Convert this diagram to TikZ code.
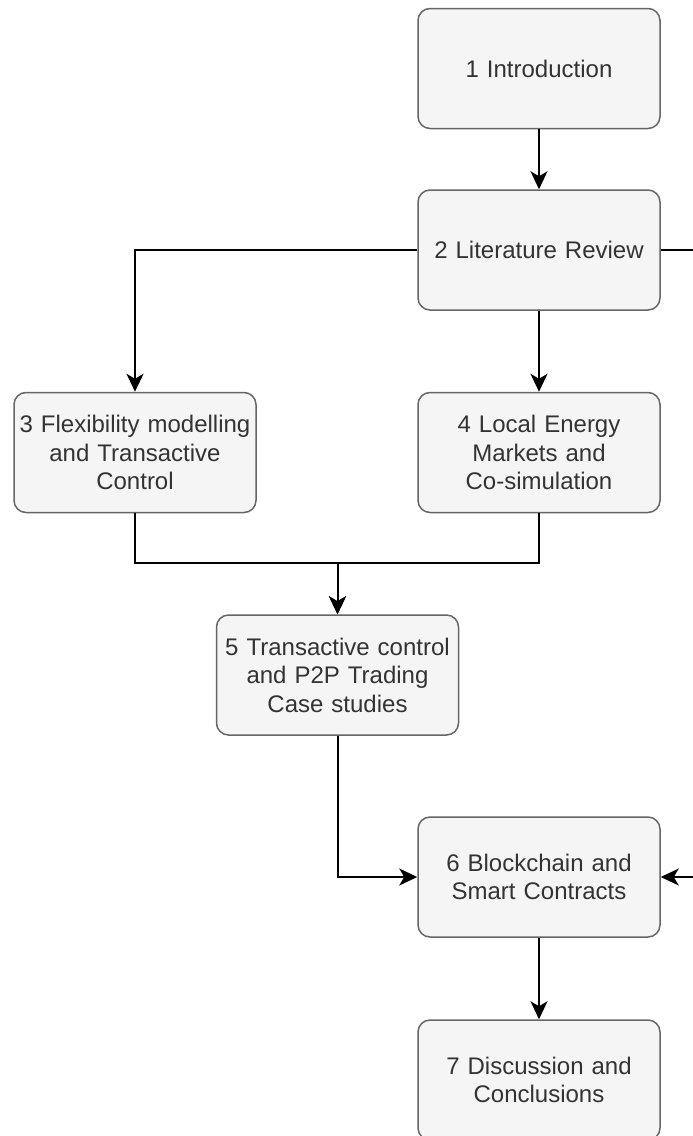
\documentclass[tikz,border=0pt]{standalone}
\usepackage{fontspec}
\setmainfont{Liberation Sans}
\usetikzlibrary{arrows.meta}
\definecolor{boxfill}{HTML}{F5F5F5}
\definecolor{boxline}{HTML}{666666}
\definecolor{txt}{HTML}{333333}
\begin{document}
\begin{tikzpicture}[x=1pt,y=-1pt,
  chap/.style={rectangle,rounded corners=12pt,draw=boxline,fill=boxfill,line width=1.5pt,
    minimum width=242pt,minimum height=120pt,text width=238pt,inner sep=1pt,align=center,
    font=\fontsize{24}{28.5}\selectfont,text=txt},
  conn/.style={line width=2pt,black},
  arr/.style={conn,-{Stealth[length=18pt,width=17pt,inset=5pt]}}]
\useasboundingbox (0,0) rectangle (693,1136);
\clip (0,0) rectangle (693,1136);
\node[chap] (n1) at (539,68.5) {1 Introduction};
\node[chap] (n2) at (539,250) {2 Literature Review};
\node[chap] (n3) at (135,452.5) {3 Flexibility modelling\\and Transactive\\Control};
\node[chap] (n4) at (539,452.5) {4 Local Energy\\Markets and\\Co-simulation};
\node[chap] (n5) at (337.5,675) {5 Transactive control\\and P2P Trading\\Case studies};
\node[chap] (n6) at (539,877) {6 Blockchain and\\Smart Contracts};
\node[chap] (n7) at (539,1080) {7 Discussion and\\Conclusions};
\coordinate (r1) at (730,250);
\coordinate (r2) at (730,877);
\draw[arr] (n1) -- (n2);
\draw[arr] (n2.west) -| (n3.north);
\draw[arr] (n2) -- (n4);
\draw[arr] (n3.south) -- ++(0,50) -| (n5.north);
\draw[arr] (n4.south) -- ++(0,50) -| (n5.north);
\draw[arr] (n5.south) |- (n6.west);
\draw[arr] (n2.east) -- (r1) -- (r2) -- (n6.east);
\draw[arr] (n6) -- (n7);
\end{tikzpicture}
\end{document}
